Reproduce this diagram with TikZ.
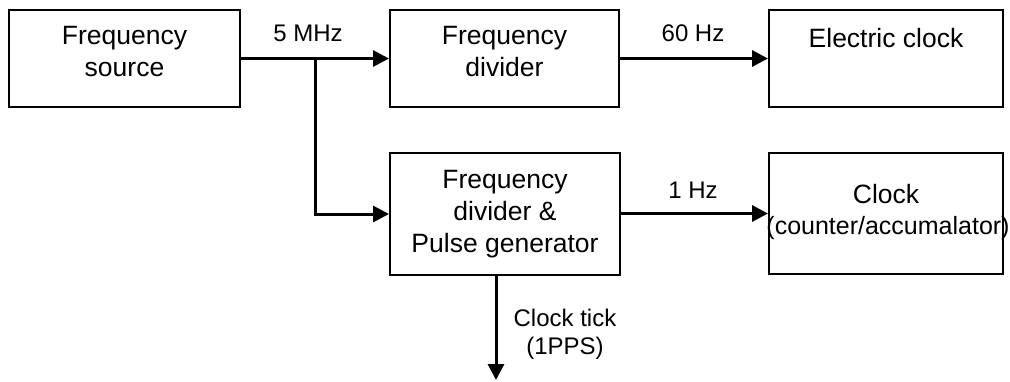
\documentclass[tikz,border=0pt]{standalone}
\usepackage{fontspec}
\setmainfont{Liberation Sans}
\usetikzlibrary{arrows.meta}
\begin{document}
\begin{tikzpicture}[x=1pt,y=-1pt,
  blk/.style={draw=black,line width=2pt,inner sep=0pt},
  txt/.style={align=center,font=\fontsize{26.5}{32}\selectfont,inner sep=0pt},
  lbl/.style={align=center,font=\fontsize{24}{28}\selectfont,inner sep=0pt},
  conn/.style={line width=3pt,-{Triangle[length=16pt,width=16pt]}},
  wire/.style={line width=3pt}]
\useasboundingbox (0,0) rectangle (1010,381);
% boxes
\node[blk,minimum width=231pt,minimum height=97pt] (FS) at (124.5,58.5) {};
\node[blk,minimum width=229pt,minimum height=97pt] (FD) at (504.5,58.5) {};
\node[blk,minimum width=234pt,minimum height=97pt] (EC) at (886,58.5) {};
\node[blk,minimum width=230pt,minimum height=122pt] (PG) at (505,214) {};
\node[blk,minimum width=234pt,minimum height=121pt] (CL) at (886,213.5) {};
% texts
\node[txt] (tFS) at (124.5,52) {Frequency\\source};
\node[txt] (tFD) at (504.5,52) {Frequency\\divider};
\node[txt] (tEC) at (886,38) {Electric clock};
\node[txt] (tPG) at (505,214) {Frequency\\divider \&\\Pulse generator};
\node[txt] (tCL) at (886,194) {Clock};
\node[lbl,font=\fontsize{25}{28}\selectfont] (tCL2) at (888,228) {(counter/accumalator)};
% labels
\node[lbl] (l5) at (308,33) {5 MHz};
\node[lbl] (l60) at (693,33) {60 Hz};
\node[lbl] (l1) at (693,190) {1 Hz};
\node[lbl] (ltick) at (565,334) {Clock tick\\(1PPS)};
% connectors
\coordinate (br) at (315,58.5);
\coordinate (tickend) at (496,380);
\draw[conn] (FS.east) -- (FD.west);
\draw[conn] (br) |- (PG.west);
\draw[conn] (FD.east) -- (EC.west);
\draw[conn] (PG.east |- CL.west) -- (CL.west);
\draw[conn] (tickend |- PG.south) -- (tickend);
\end{tikzpicture}
\end{document}
